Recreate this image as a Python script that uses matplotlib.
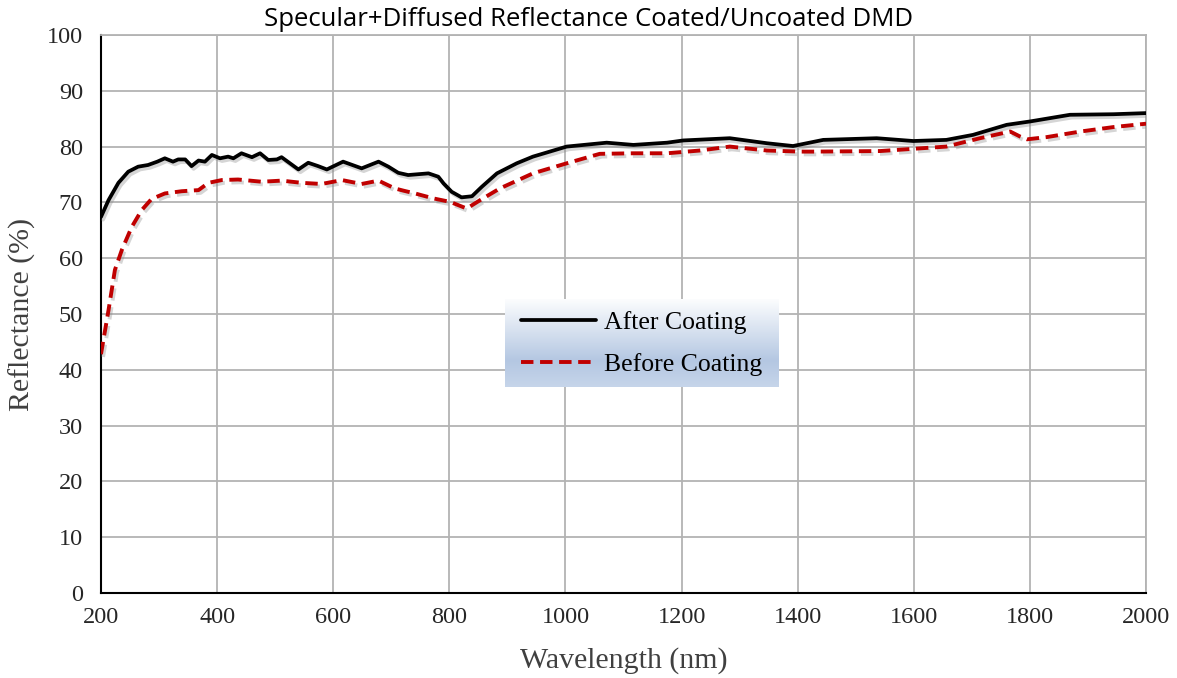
import matplotlib as mpl
import matplotlib.pyplot as plt
import matplotlib.patheffects as pe
import numpy as np
from matplotlib.colors import LinearSegmentedColormap

mpl.rcParams["font.family"] = ["Liberation Serif", "DejaVu Serif"]

# After Coating (black solid)
after_nm = [200, 213, 230, 247, 264, 281, 297, 310, 324, 333, 345, 356, 368, 379, 391,
            405, 419, 428, 442, 460, 474, 488, 503, 511, 540, 557, 574, 589, 617, 649,
            678, 695, 712, 729, 764, 781, 790, 804, 821, 839, 856, 882, 916, 944, 1002,
            1071, 1117, 1175, 1203, 1283, 1347, 1392, 1444, 1536, 1599, 1656, 1702, 1760,
            1800, 1869, 1944, 2000]
after_r = [67.4, 70.4, 73.5, 75.5, 76.4, 76.7, 77.3, 77.9, 77.3, 77.7, 77.7, 76.5, 77.5, 77.3, 78.5,
           77.9, 78.2, 77.9, 78.8, 78.1, 78.8, 77.6, 77.7, 78.1, 75.9, 77.1, 76.5, 75.9, 77.3, 76.1,
           77.3, 76.4, 75.3, 74.9, 75.2, 74.6, 73.4, 71.9, 70.9, 71.1, 72.8, 75.2, 77.0, 78.2, 80.0,
           80.7, 80.3, 80.7, 81.1, 81.5, 80.6, 80.1, 81.2, 81.5, 81.0, 81.2, 82.1, 83.9,
           84.5, 85.7, 85.8, 86.0]

# Before Coating (red dashed)
before_nm = [200, 213, 224, 236, 253, 270, 287, 310, 339, 368, 385, 408, 436, 477, 511,
             546, 580, 615, 649, 678, 706, 721, 741, 773, 801, 830, 853, 887, 944, 1002,
             1059, 1117, 1175, 1232, 1283, 1347, 1404, 1427, 1542, 1599, 1656, 1714, 1766,
             1783, 1795, 1829, 1887, 1944, 2000]
before_r = [42.8, 50.7, 57.9, 61.5, 65.6, 68.6, 70.6, 71.6, 72.0, 72.2, 73.5, 74.0, 74.1, 73.7, 73.9,
            73.5, 73.3, 74.0, 73.3, 73.9, 72.5, 72.1, 71.6, 70.7, 70.1, 68.9, 70.4, 72.5, 75.2, 77.0,
            78.7, 78.8, 78.8, 79.3, 80.0, 79.3, 79.1, 79.1, 79.2, 79.6, 80.0, 81.5, 82.7,
            81.8, 81.3, 81.7, 82.7, 83.5, 84.1]

x_ticks = list(range(200, 2001, 200))
y_ticks = list(range(0, 101, 10))

fig = plt.figure(figsize=(11.77, 6.78), dpi=100)
ax = fig.add_axes([0.0858, 0.1254, 0.8879, 0.8230])

shadow = [pe.SimpleLineShadow(offset=(1.5, -2), shadow_color="#888888", alpha=0.35), pe.Normal()]
l1, = ax.plot(after_nm, after_r, color="black", lw=2.7, label="After Coating",
              solid_joinstyle="round", solid_capstyle="round", path_effects=shadow, zorder=3)
l2, = ax.plot(before_nm, before_r, color="#C00000", lw=2.8, ls=(0, (3.2, 1.7)),
              label="Before Coating", path_effects=shadow, zorder=3)

ax.set_xlim(200, 2000)
ax.set_ylim(0, 100)
ax.set_xticks(x_ticks)
ax.set_yticks(y_ticks)
ax.grid(True, color="#b3b3b3", lw=1.3)
ax.set_axisbelow(True)
for s in ["top", "right"]:
    ax.spines[s].set_color("#b3b3b3")
    ax.spines[s].set_linewidth(1.3)
for s in ["left", "bottom"]:
    ax.spines[s].set_color("black")
    ax.spines[s].set_linewidth(1.5)
ax.tick_params(length=0, labelsize=17.5, labelcolor="#262626")
ax.tick_params(axis="y", pad=13)
ax.tick_params(axis="x", pad=10)
ax.set_xlabel("Wavelength (nm)", fontsize=21.5, color="#404040", labelpad=14)
ax.set_ylabel("Reflectance (%)", fontsize=21.5, color="#404040", labelpad=8)

fig.suptitle("Specular+Diffused Reflectance Coated/Uncoated DMD", x=0.5, y=0.99,
             fontsize=18.5, family=["Open Sans", "DejaVu Sans"], color="black")

# legend box with gradient fill
lx0, lx1, ly0, ly1 = 0.3866, 0.648, 0.369, 0.525
cmap = LinearSegmentedColormap.from_list("leg", [(0, "#c6d5ea"), (0.3, "#b4c7e2"), (1, "#fcfdfe")])
grad = np.linspace(0, 1, 256).reshape(-1, 1)
ax.imshow(grad, cmap=cmap, origin="lower", aspect="auto", extent=[lx0, lx1, ly0, ly1],
          transform=ax.transAxes, zorder=4)
ax.set_xlim(200, 2000)
ax.set_ylim(0, 100)
leg = ax.legend(handles=[l1, l2], loc="center", bbox_to_anchor=((lx0 + lx1) / 2, (ly0 + ly1) / 2),
                frameon=False, fontsize=18.5, handlelength=2.9, handletextpad=0.3, labelspacing=0.75)
leg.set_zorder(5)
for h in leg.get_lines():
    h.set_path_effects([])

fig.savefig("out.png", dpi=100)
